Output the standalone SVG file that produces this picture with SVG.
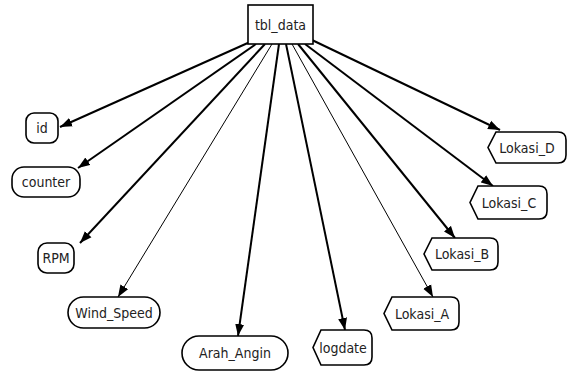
<svg xmlns="http://www.w3.org/2000/svg" width="570" height="376" viewBox="0 0 570 376">
<style>
.n{fill:#fff;stroke:#000;stroke-width:1.6}
.t{font-family:"DejaVu Sans Condensed","DejaVu Sans","Liberation Sans",sans-serif;font-stretch:condensed;font-size:14px;fill:#222;text-anchor:middle;dominant-baseline:central}
.c{stroke:#000;fill:none}
.k{stroke-width:2}
.f{stroke-width:1}
</style>
<defs>
<marker id="a" viewBox="0 0 12 10" refX="12" refY="5" markerWidth="12" markerHeight="10" markerUnits="userSpaceOnUse" orient="auto">
<path d="M0,0.5 L12,5 L0,9.5 Z" fill="#000"/>
</marker>
</defs>
<rect width="570" height="376" fill="#fff"/>
<g id="connectors">
<line class="c k" x1="250" y1="42" x2="60" y2="127" marker-end="url(#a)"/>
<line class="c k" x1="256" y1="44" x2="78" y2="168" marker-end="url(#a)"/>
<line class="c k" x1="265" y1="44" x2="80" y2="243" marker-end="url(#a)"/>
<line class="c f" x1="272" y1="44" x2="118" y2="297" marker-end="url(#a)"/>
<line class="c k" x1="279" y1="44" x2="238" y2="336" marker-end="url(#a)"/>
<line class="c k" x1="286" y1="44" x2="345" y2="330" marker-end="url(#a)"/>
<line class="c f" x1="292" y1="44" x2="433" y2="297" marker-end="url(#a)"/>
<line class="c k" x1="298" y1="44" x2="455" y2="238" marker-end="url(#a)"/>
<line class="c k" x1="305" y1="44" x2="493" y2="186" marker-end="url(#a)"/>
<line class="c k" x1="312" y1="40" x2="500" y2="130" marker-end="url(#a)"/>
</g>
<g id="tbl_data"><rect class="n" x="248" y="5" width="65" height="39"/><text class="t" x="280.5" y="24.5">tbl_data</text></g>
<g id="id"><rect class="n" x="26" y="113" width="32" height="30" rx="8"/><text class="t" x="42" y="128">id</text></g>
<g id="counter"><rect class="n" x="12" y="167" width="68" height="30" rx="12"/><text class="t" x="46" y="182">counter</text></g>
<g id="RPM"><rect class="n" x="38" y="243" width="36" height="30" rx="9"/><text class="t" x="56" y="258">RPM</text></g>
<g id="Wind_Speed"><rect class="n" x="68" y="297" width="92" height="31" rx="15.5"/><text class="t" x="114" y="312.5">Wind_Speed</text></g>
<g id="Arah_Angin"><rect class="n" x="182" y="336" width="106" height="34" rx="17"/><text class="t" x="235" y="353">Arah_Angin</text></g>
<g id="logdate"><path class="n" d="M321,330 H364 Q372,330 372,338 V357 Q372,365 364,365 H321 L313,347.5 Z"/><text class="t" x="343" y="347.5">logdate</text></g>
<g id="Lokasi_A"><path class="n" d="M392,297 H451 Q459,297 459,305 V322 Q459,330 451,330 H392 L384,313.5 Z"/><text class="t" x="422" y="313.5">Lokasi_A</text></g>
<g id="Lokasi_B"><path class="n" d="M432,238 H490 Q498,238 498,246 V262 Q498,270 490,270 H432 L424,254 Z"/><text class="t" x="462" y="254">Lokasi_B</text></g>
<g id="Lokasi_C"><path class="n" d="M478,186 H539 Q547,186 547,194 V211 Q547,219 539,219 H478 L470,202.5 Z"/><text class="t" x="509" y="202.5">Lokasi_C</text></g>
<g id="Lokasi_D"><path class="n" d="M496,132 H558 Q566,132 566,140 V155 Q566,163 558,163 H496 L488,147.5 Z"/><text class="t" x="527" y="147.5">Lokasi_D</text></g>
</svg>
